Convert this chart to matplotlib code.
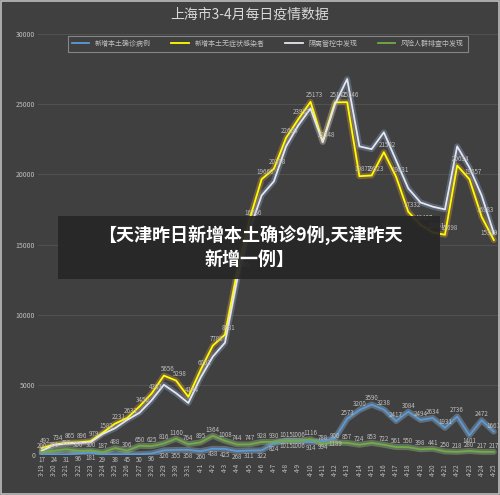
import matplotlib
matplotlib.use("Agg")
import matplotlib.pyplot as plt
import numpy as np

plt.rcParams['font.family'] = ['Noto Sans CJK SC', 'DejaVu Sans']

dates = ["3-19","3-20","3-21","3-22","3-23","3-24","3-25","3-26","3-27","3-28","3-29","3-30","3-31",
         "4-1","4-2","4-3","4-4","4-5","4-6","4-7","4-8","4-9","4-10","4-11","4-12","4-13","4-14",
         "4-15","4-16","4-17","4-18","4-19","4-20","4-21","4-22","4-23","4-24","4-25"]
confirmed = [17,24,31,96,181,29,38,45,50,96,326,355,358,260,438,425,268,311,322,824,1015,1006,914,994,
             1189,2573,3200,3590,3238,2417,3084,2494,2634,1931,2736,1401,2472,1661]
asymptomatic = [492,734,865,896,979,1582,2231,2631,3450,4381,5656,5298,4144,6051,7788,8581,13086,16766,
                19660,20398,22609,23937,25173,22348,25141,25146,19872,19923,21582,19831,17332,16407,15861,
                15698,20634,19657,16983,15319]
quarantine = [300,700,800,850,900,1500,1900,2500,3000,3900,5000,4400,3700,5500,7000,8000,12500,16000,
              18500,19500,22000,23500,24700,22300,25000,26800,22000,21800,23000,21000,19000,18000,17700,
              17500,22000,20500,18500,15800]
screening = [200,300,400,300,300,187,488,306,650,625,816,1160,764,895,1364,1008,744,747,928,930,1015,1006,
             1116,788,900,857,724,853,722,561,550,398,441,250,218,280,217,217]
series_names = ["新增本土确诊病例","新增本土无症状感染者","隔离管控中发现","风险人群排查中发现"]

bg = "#404040"
fig = plt.figure(figsize=(5, 4.95), dpi=100, facecolor=bg)
ax = fig.add_axes([0.076, 0.081, 0.919, 0.85], facecolor=bg)
x = np.arange(len(dates))

def glow(y, color, glowc, lw=1.3):
    ax.plot(x, y, color=glowc, lw=lw+3, alpha=0.35, solid_capstyle='round', zorder=2)
    return ax.plot(x, y, color=color, lw=lw, zorder=3)[0]

l1 = glow(confirmed, "#5b9bd5", "#9cc3ea")
l2 = glow(asymptomatic, "#ffff00", "#e6a23c")
l3 = glow(quarantine, "#e6e6ee", "#8fa8d0")
l4 = glow(screening, "#70ad47", "#a9d18e")

lab = dict(fontsize=4.5, color="#bfbfbf", zorder=4, ha='center')
n = len(dates)
for i in x:
    c = confirmed[i]
    if c > 1500:
        ax.text(i, c + 150, str(c), va='bottom', **lab)
    else:
        ax.text(i, c - 120, str(c), va='top', **lab)
    ax.text(i, screening[i] + 150, str(screening[i]), va='bottom', **lab)
    xo = i + 0.3 if i < n - 1 else i - 0.4
    ax.text(xo, asymptomatic[i] + 200, str(asymptomatic[i]), va='bottom', **lab)

ax.set_ylim(0, 30000)
ax.set_xlim(-0.3, n - 0.7)
ax.set_yticks(range(0, 30001, 5000))
ax.set_yticklabels([str(v) for v in range(0, 30001, 5000)], fontsize=5, color="#bfbfbf")
ax.set_xticks(x)
ax.set_xticklabels(dates, rotation=90, fontsize=4.5, color="#bfbfbf")
ax.tick_params(axis='x', length=0, pad=6)
ax.tick_params(axis='y', length=0, pad=2)
for s in ax.spines.values():
    s.set_visible(False)
ax.grid(axis='y', color="#555555", lw=0.6)
ax.set_axisbelow(True)

leg = ax.legend([l1, l2, l3, l4], series_names, loc='upper center', ncol=4, fontsize=5,
                frameon=True, facecolor=bg, edgecolor="#999999", labelcolor="#bfbfbf",
                bbox_to_anchor=(0.5, 1.0), handlelength=2.5, columnspacing=3, borderpad=0.3)
leg.get_frame().set_linewidth(0.8)
leg.get_frame().set_boxstyle('square')

fig.text(0.5, 0.97, "上海市3-4月每日疫情数据", ha='center', va='center', fontsize=10, color="#d9d9d9")

fig.patches.append(plt.Rectangle((0.116, 0.436), 0.764, 0.128, transform=fig.transFigure,
                                 facecolor="#262626", alpha=0.92, zorder=10))
fig.text(0.5, 0.5, "【天津昨日新增本土确诊9例,天津昨天\n新增一例】", ha='center', va='center',
         fontsize=13, color="white", fontweight='bold', linespacing=1.3, zorder=11)

fig.patches.append(plt.Rectangle((0.002, 0.002), 0.996, 0.996, transform=fig.transFigure,
                                 facecolor='none', edgecolor="#bfbfbf", lw=1.2, zorder=12))
fig.savefig("out.png", dpi=100, facecolor=bg)
